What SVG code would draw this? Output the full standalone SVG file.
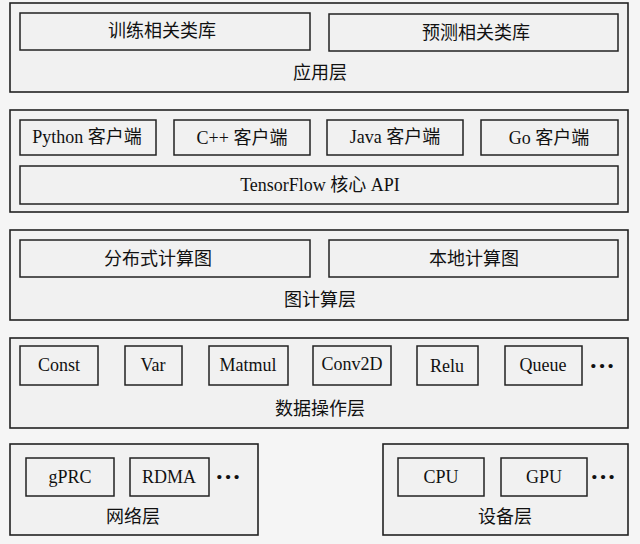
<svg xmlns="http://www.w3.org/2000/svg" width="640" height="544" viewBox="0 0 640 544">
<style>
.layer{fill:#f1f1f1;stroke:#222;stroke-width:1.6}
.box{fill:#f1f1f1;stroke:#222;stroke-width:1.5}
text{font-family:"Liberation Serif","Noto Sans CJK SC",serif;font-size:18px;fill:#111;text-anchor:middle;dominant-baseline:central}
.dots{font-size:26px;font-weight:bold}
</style>
<rect width="640" height="544" fill="#f5f5f5"/>
<g id="app-layer">
<rect class="layer" x="10" y="3" width="618" height="89"/>
<text x="320" y="73">应用层</text>
</g>
<g id="train-lib"><rect class="box" x="20" y="13" width="290" height="37"/><text x="162" y="31">训练相关类库</text></g>
<g id="predict-lib"><rect class="box" x="329" y="14" width="289" height="37"/><text x="476" y="33">预测相关类库</text></g>

<g id="client-layer">
<rect class="layer" x="10" y="110" width="618" height="102"/>
</g>
<g id="python"><rect class="box" x="20" y="120" width="136" height="35"/><text x="87" y="137">Python 客户端</text></g>
<g id="cpp"><rect class="box" x="174" y="120" width="136" height="35"/><text x="242" y="138">C++ 客户端</text></g>
<g id="java"><rect class="box" x="327" y="120" width="136" height="35"/><text x="395" y="137">Java 客户端</text></g>
<g id="go"><rect class="box" x="481" y="120" width="137" height="35"/><text x="549" y="138">Go 客户端</text></g>
<g id="core-api"><rect class="box" x="20" y="166" width="598" height="38"/><text x="320" y="185">TensorFlow 核心 API</text></g>

<g id="graph-layer">
<rect class="layer" x="10" y="230" width="618" height="90"/>
<text x="320" y="300">图计算层</text>
</g>
<g id="dist-graph"><rect class="box" x="20" y="240" width="290" height="37"/><text x="158" y="259">分布式计算图</text></g>
<g id="local-graph"><rect class="box" x="329" y="240" width="289" height="37"/><text x="474" y="259">本地计算图</text></g>

<g id="op-layer">
<rect class="layer" x="10" y="338" width="618" height="90"/>
<text x="320" y="409">数据操作层</text>
<text class="dots" x="602" y="365">···</text>
</g>
<g id="const"><rect class="box" x="20" y="346" width="78" height="39"/><text x="59" y="365">Const</text></g>
<g id="var"><rect class="box" x="125" y="346" width="57" height="39"/><text x="153" y="365">Var</text></g>
<g id="matmul"><rect class="box" x="209" y="346" width="79" height="39"/><text x="248" y="365">Matmul</text></g>
<g id="conv2d"><rect class="box" x="313" y="346" width="78" height="39"/><text x="352" y="364">Conv2D</text></g>
<g id="relu"><rect class="box" x="417" y="346" width="61" height="39"/><text x="447" y="366">Relu</text></g>
<g id="queue"><rect class="box" x="505" y="346" width="77" height="39"/><text x="543" y="365">Queue</text></g>

<g id="net-layer">
<rect class="layer" x="10" y="444" width="248" height="91"/>
<text x="133" y="517">网络层</text>
<text class="dots" x="228" y="476">···</text>
</g>
<g id="grpc"><rect class="box" x="26" y="458" width="88" height="38"/><text x="70" y="477">gPRC</text></g>
<g id="rdma"><rect class="box" x="130" y="458" width="79" height="38"/><text x="169" y="477">RDMA</text></g>

<g id="device-layer">
<rect class="layer" x="383" y="444" width="245" height="91"/>
<text x="505" y="517">设备层</text>
<text class="dots" x="603" y="476">···</text>
</g>
<g id="cpu"><rect class="box" x="398" y="458" width="86" height="38"/><text x="441" y="477">CPU</text></g>
<g id="gpu"><rect class="box" x="501" y="458" width="86" height="38"/><text x="544" y="477">GPU</text></g>
<g id="connectors"></g>
</svg>
